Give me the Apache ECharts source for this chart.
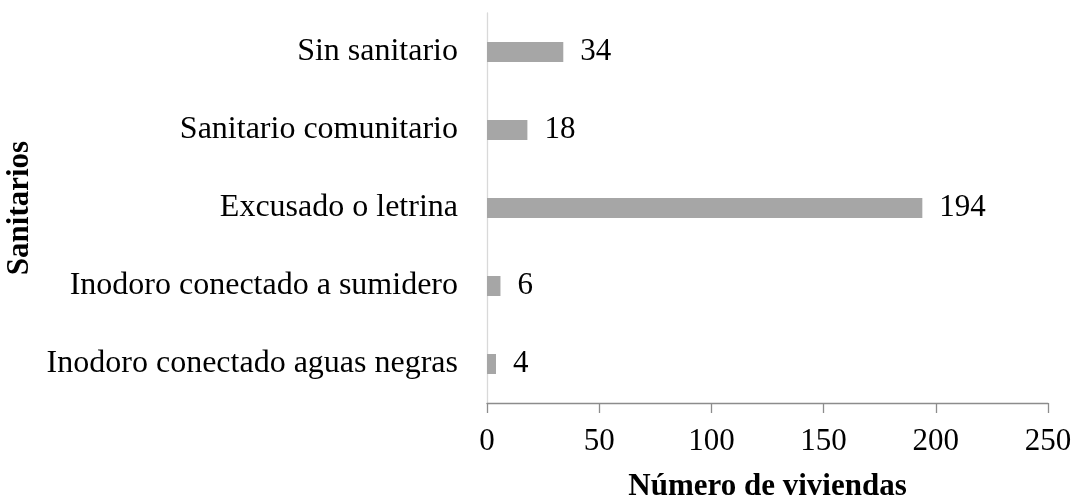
<!DOCTYPE html>
<html>
<head>
<meta charset="utf-8">
<script src="https://cdn.jsdelivr.net/npm/echarts@6/dist/echarts.min.js"></script>
<style>
  html, body { margin: 0; padding: 0; background: #fff; }
  #chart { width: 1074px; height: 498px; }
</style>
</head>
<body>
<div id="chart"></div>
<script>
// categorías de arriba hacia abajo
const categories = [
  'Sin sanitario',
  'Sanitario comunitario',
  'Excusado o letrina',
  'Inodoro conectado a sumidero',
  'Inodoro conectado aguas negras'
]
const viviendas = [34, 18, 194, 6, 4]
const xTicks = [0, 50, 100, 150, 200, 250]

const FONT = "'Liberation Serif', 'Times New Roman', serif"

const chart = echarts.init(document.getElementById('chart'), null, { renderer: 'canvas' })

chart.setOption({
  animation: false,
  backgroundColor: '#fff',
  grid: { left: 487, right: 26, top: 13, bottom: 95, containLabel: false, outerBoundsMode: 'none' },
  xAxis: {
    type: 'value',
    min: xTicks[0],
    max: xTicks[xTicks.length - 1],
    interval: xTicks[1] - xTicks[0],
    name: 'Número de viviendas',
    nameLocation: 'middle',
    nameGap: 68,
    nameTextStyle: { fontFamily: FONT, fontSize: 31, fontWeight: 'bold', color: '#000' },
    axisLine: { show: true, lineStyle: { color: '#8c8c8c', width: 1.3 } },
    axisTick: { show: true, length: 10, lineStyle: { color: '#8c8c8c', width: 1.3 } },
    axisLabel: { fontFamily: FONT, fontSize: 31, color: '#000', margin: 23 },
    splitLine: { show: false }
  },
  yAxis: {
    type: 'category',
    data: categories,
    inverse: true,
    name: 'Sanitarios',
    nameLocation: 'middle',
    nameRotate: 90,
    nameGap: 445,
    nameTextStyle: { fontFamily: FONT, fontSize: 31, fontWeight: 'bold', color: '#000' },
    axisLine: { show: true, lineStyle: { color: '#d9d9d9', width: 1.3 } },
    axisTick: { show: false },
    axisLabel: { fontFamily: FONT, fontSize: 32, color: '#000', margin: 29 }
  },
  series: [
    {
      type: 'bar',
      data: viviendas,
      barWidth: 20,
      itemStyle: { color: '#a6a6a6' },
      label: {
        show: true,
        position: 'right',
        distance: 17,
        fontFamily: FONT,
        fontSize: 31,
        color: '#000'
      }
    }
  ]
})
</script>
</body>
</html>
